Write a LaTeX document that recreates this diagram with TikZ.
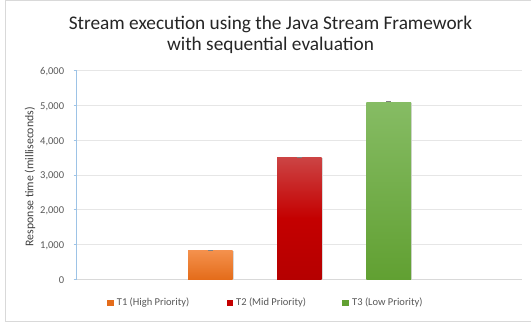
\documentclass[tikz,border=0pt]{standalone}
\usepackage{fontspec}
\setmainfont{Carlito}
\usetikzlibrary{calc}
\definecolor{framec}{HTML}{D9D9D9}
\definecolor{gridc}{HTML}{E6E6E6}
\definecolor{axisc}{HTML}{9DC3E6}
\definecolor{txtc}{HTML}{595959}
\definecolor{ytc}{HTML}{404040}
\definecolor{titlec}{HTML}{262626}
\definecolor{orT}{HTML}{F4914D}
\definecolor{orB}{HTML}{E46C1A}
\definecolor{rdT}{HTML}{CC4444}
\definecolor{rdM}{HTML}{C40000}
\definecolor{rdB}{HTML}{B50000}
\definecolor{grT}{HTML}{86BC64}
\definecolor{grB}{HTML}{61A032}
\tikzset{
  ticklab/.style={anchor=east, font=\fontsize{10.5}{12}\selectfont, text=txtc, inner sep=0pt},
  legtxt/.style={anchor=west, font=\fontsize{10.5}{12}\selectfont, text=txtc, inner sep=0pt},
  legsq/.style={minimum size=6.5pt, inner sep=0pt, draw=none},
  gridln/.style={draw=gridc, line width=0.8pt},
  errcap/.style={draw=gray, line width=1pt},
}
\begin{document}
\begin{tikzpicture}[x=1pt,y=-1pt]
\useasboundingbox (0,0) rectangle (531,324);
\fill[white] (0,0) rectangle (531,324);
\draw[framec, line width=1pt] (5.3,0.7) -- (535,0.7) (5.3,0.7) -- (5.3,321.5) -- (535,321.5);
% title
\node[font=\fontsize{19.3}{21}\selectfont, text=titlec, align=center] (title) at (270.5,34.5) {Stream execution using the Java Stream Framework\\with sequential evaluation};
% gridlines
\foreach \v in {1,...,6}{
  \draw[gridln] (76.7,{279.3-34.77*\v}) -- (521.7,{279.3-34.77*\v});
}
\draw[framec, line width=0.8pt] (76.7,279.3) -- (521.7,279.3);
% tick labels
\node[ticklab] (t0) at (64.3,280.5) {0};
\node[ticklab] (t1) at (64.3,245.7) {1,000};
\node[ticklab] (t2) at (64.3,211.0) {2,000};
\node[ticklab] (t3) at (64.3,176.2) {3,000};
\node[ticklab] (t4) at (64.3,141.4) {4,000};
\node[ticklab] (t5) at (64.3,106.7) {5,000};
\node[ticklab] (t6) at (64.3,71.9) {6,000};
\node[rotate=90, font=\fontsize{11.8}{13}\selectfont, text=ytc] (ytitle) at (30,176.7) {Response time (milliseconds)};
% bars
\fill[black!15] (188.8,251.2) rectangle (233.5,279.3);
\shade[top color=orT, bottom color=orB] (188,250.3) rectangle (232.7,279.3);
\fill[black!15] (277.8,158.2) rectangle (322.5,279.3);
\shade[top color=rdT, bottom color=rdB, middle color=rdM] (277,157.3) rectangle (321.7,279.3);
\fill[black!15] (367.1,102.9) rectangle (411.8,279.3);
\shade[top color=grT, bottom color=grB] (366.3,102) rectangle (411,279.3);
% axis
\draw[axisc, line width=0.8pt] (76.7,70.7) -- (76.7,279.3);
\foreach \v in {0,...,6}{\draw[axisc, line width=0.8pt] (73.5,{279.3-34.77*\v}) -- (76.7,{279.3-34.77*\v});}
% error bars
\draw[errcap] (208,250.3) -- (213,250.3);
\draw[errcap] (297,157.0) -- (302,157.0);
\draw[errcap] (386.2,101.7) -- (391.2,101.7);
% legend
\node[legsq, fill=orB] (l1) at (110.7,303) {};
\node[legtxt] (lt1) at (116.7,303) {T1 (High Priority)};
\node[legsq, fill=rdM] (l2) at (230,303) {};
\node[legtxt] (lt2) at (236,303) {T2 (Mid Priority)};
\node[legsq, fill=grB] (l3) at (345.7,303) {};
\node[legtxt] (lt3) at (352,303) {T3 (Low Priority)};
\end{tikzpicture}
\end{document}
